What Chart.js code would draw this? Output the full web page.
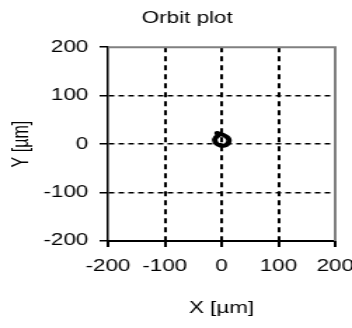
<!DOCTYPE html>
<html>
<head>
<meta charset="utf-8">
<style>
  html, body { margin: 0; padding: 0; background: #fff; }
  /* the reference is horizontally stretched, so draw narrow and widen with css */
  #grafica { display: block; width: 352px !important; height: 328px !important; }
</style>
<script src="https://cdn.jsdelivr.net/npm/chart.js@4/dist/chart.umd.min.js"></script>
</head>
<body>
<canvas id="grafica" width="251" height="328"></canvas>
<script>
// datos de la orbita (µm)
const orbitX = [-4, 3, 10, 13, 11, 5, -2, -9, -12, -10, -6, -8, -4]
const orbitY = [21, 19, 14, 8, 1, -3, -3, 1, 8, 14, 18, 23, 21]
const ticksX = [-200, -100, 0, 100, 200]
const ticksY = [-200, -100, 0, 100, 200]

const puntos = orbitX.map((x, i) => ({ x: x, y: orbitY[i] }))

const fuente = { family: "'Liberation Sans', Arial, sans-serif", size: 16 }

// quitar la linea de grilla en los bordes
const colorGrilla = (ctx) => {
    const v = ctx.tick ? ctx.tick.value : 0
    return (v === ticksX[0] || v === ticksX[ticksX.length - 1]) ? 'rgba(0,0,0,0)' : '#000'
}

// marco gris arriba y a la derecha
const marco = {
    id: 'marco',
    afterDatasetsDraw(chart) {
        const { ctx, chartArea } = chart
        ctx.save()
        ctx.strokeStyle = '#808080'
        ctx.lineWidth = 2
        ctx.beginPath()
        ctx.moveTo(chartArea.left, chartArea.top)
        ctx.lineTo(chartArea.right, chartArea.top)
        ctx.lineTo(chartArea.right, chartArea.bottom)
        ctx.stroke()
        ctx.restore()
    }
}

new Chart(document.getElementById('grafica'), {
    type: 'scatter',
    data: {
        datasets: [{
            label: 'Orbit',
            data: puntos,
            showLine: true,
            borderColor: '#000',
            borderWidth: 4,
            pointRadius: 0,
            tension: 0.3
        }]
    },
    options: {
        responsive: false,
        devicePixelRatio: 1,
        animation: false,
        // left padding moves the title centre; the y axis title is pulled back with a negative padding
        layout: { padding: { left: 28, right: 12, top: 0, bottom: 0 } },
        plugins: {
            legend: { display: false },
            tooltip: { enabled: false },
            title: {
                display: true,
                text: 'Orbit plot',
                color: '#000',
                font: { ...fuente, weight: 'normal' },
                padding: { top: 9, bottom: 19 }
            }
        },
        scales: {
            x: {
                type: 'linear',
                min: -200,
                max: 200,
                afterBuildTicks: (s) => { s.ticks = ticksX.map(v => ({ value: v })) },
                afterFit: (s) => { s.height = 87; s.paddingLeft = 0; s.paddingRight = 0 },
                ticks: { color: '#000', font: fuente, padding: 10, maxRotation: 0 },
                grid: { color: colorGrilla, lineWidth: 2, tickColor: '#000', tickLength: 6, tickWidth: 2 },
                border: { color: '#000', width: 2, dash: [5, 4] },
                title: { display: true, text: 'X [µm]', color: '#000', font: fuente, padding: { top: 0, bottom: 10 } }
            },
            y: {
                type: 'linear',
                min: -200,
                max: 200,
                afterBuildTicks: (s) => { s.ticks = ticksY.map(v => ({ value: v })) },
                afterFit: (s) => { s.width = 49; s.paddingTop = 0; s.paddingBottom = 0 },
                ticks: { color: '#000', font: fuente, padding: 8 },
                grid: { color: colorGrilla, lineWidth: 1.5, tickColor: '#000', tickLength: 6, tickWidth: 1.5 },
                border: { color: '#000', width: 1.5, dash: [4, 3] },
                title: { display: true, text: 'Y [µm]', color: '#000', font: fuente, padding: { top: -22, bottom: 0 } }
            }
        }
    },
    plugins: [marco]
});
</script>
</body>
</html>
